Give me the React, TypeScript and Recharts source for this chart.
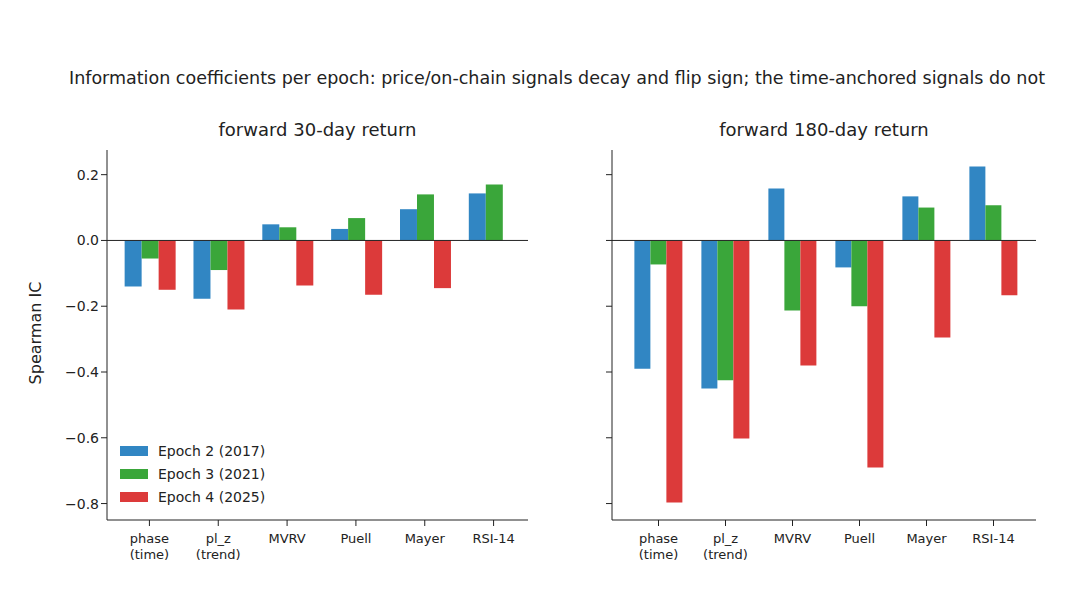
import React from "react";
import { BarChart, Bar, XAxis, YAxis, ReferenceLine } from "recharts";

const signals = ["phase\n(time)", "pl_z\n(trend)", "MVRV", "Puell", "Mayer", "RSI-14"];
const epochs = ["Epoch 2 (2017)", "Epoch 3 (2021)", "Epoch 4 (2025)"];
const colors = ["#3186c3", "#3aa63a", "#dc3a3a"];

const ic30e2 = [-0.14, -0.177, 0.049, 0.035, 0.095, 0.143];
const ic30e3 = [-0.055, -0.09, 0.04, 0.068, 0.14, 0.17];
const ic30e4 = [-0.15, -0.21, -0.137, -0.165, -0.145, 0];

const ic180e2 = [-0.39, -0.45, 0.158, -0.082, 0.134, 0.225];
const ic180e3 = [-0.073, -0.425, -0.213, -0.2, 0.1, 0.107];
const ic180e4 = [-0.797, -0.602, -0.38, -0.69, -0.295, -0.167];

const yTicks = [-0.8, -0.6, -0.4, -0.2, 0, 0.2];

const build = (a: number[], b: number[], c: number[]) =>
  signals.map((s, i) => ({ name: s, e2: a[i], e3: b[i], e4: c[i] }));

const font = "DejaVu Sans, sans-serif";

const CatTick = (props: any) => {
  const { x, y, payload } = props;
  const lines = String(payload.value).split("\n");
  return (
    <g transform={`translate(${x},${y})`}>
      {lines.map((l, i) => (
        <text key={i} x={0} y={15 + i * 16} textAnchor="middle" fontSize={13} fill="#222" fontFamily={font}>
          {l}
        </text>
      ))}
    </g>
  );
};

const fmt = (v: number) => (v < 0 ? "\u2212" + Math.abs(v).toFixed(1) : v.toFixed(1));

function Panel({ data, showLabels, width, left, yWidth, mLeft, mRight, pad }: any) {
  return (
    <div style={{ position: "absolute", left, top: 0 }}>
      <BarChart
        width={width}
        height={590}
        data={data}
        margin={{ top: 150, right: mRight, left: mLeft, bottom: 30 }}
        barCategoryGap="14%"
        barGap={0}
      >
        <XAxis
          dataKey="name"
          tick={<CatTick />}
          interval={0}
          height={40}
          padding={pad}
          stroke="#222"
          tickLine={{ stroke: "#222" }}
        />
        <YAxis
          domain={[-0.85, 0.275]}
          ticks={yTicks}
          width={yWidth}
          tickFormatter={showLabels ? fmt : () => ""}
          tick={{ fontSize: 14, fill: "#222", fontFamily: font }}
          stroke="#222"
          tickLine={{ stroke: "#222" }}
          allowDataOverflow
        />
        <ReferenceLine y={0} stroke="#222" strokeWidth={1} />
        <Bar dataKey="e2" fill={colors[0]} isAnimationActive={false} />
        <Bar dataKey="e3" fill={colors[1]} isAnimationActive={false} />
        <Bar dataKey="e4" fill={colors[2]} isAnimationActive={false} />
      </BarChart>
    </div>
  );
}

export default function App() {
  return (
    <div style={{ position: "absolute", left: 0, top: 0, width: 1080, height: 590, background: "#fff", fontFamily: font, color: "#222" }}>
      <div style={{ position: "absolute", top: 68, left: 0, width: 1114, textAlign: "center", fontSize: 17.5, whiteSpace: "nowrap" }}>
        Information coefficients per epoch: price/on-chain signals decay and flip sign; the time-anchored signals do not
      </div>
      <div style={{ position: "absolute", top: 119, left: 107, width: 421, textAlign: "center", fontSize: 18 }}>
        forward 30-day return
      </div>
      <div style={{ position: "absolute", top: 119, left: 612, width: 424, textAlign: "center", fontSize: 18 }}>
        forward 180-day return
      </div>
      <div style={{ position: "absolute", left: 35, top: 333, transform: "translate(-50%,-50%) rotate(-90deg)", fontSize: 16, whiteSpace: "nowrap" }}>
        Spearman IC
      </div>
      <Panel data={build(ic30e2, ic30e3, ic30e4)} showLabels width={540} left={0} yWidth={60} mLeft={47} mRight={12} pad={{ left: 8, right: 0 }} />
      <Panel data={build(ic180e2, ic180e3, ic180e4)} showLabels={false} width={490} left={560} yWidth={52} mLeft={0} mRight={14} pad={{ left: 13, right: 9 }} />
      <div style={{ position: "absolute", left: 120, top: 439, fontSize: 14 }}>
        {epochs.map((e, i) => (
          <div key={e} style={{ display: "flex", alignItems: "center", height: 23 }}>
            <span style={{ width: 28, height: 10, background: colors[i], marginRight: 10, display: "inline-block" }} />
            {e}
          </div>
        ))}
      </div>
    </div>
  );
}
